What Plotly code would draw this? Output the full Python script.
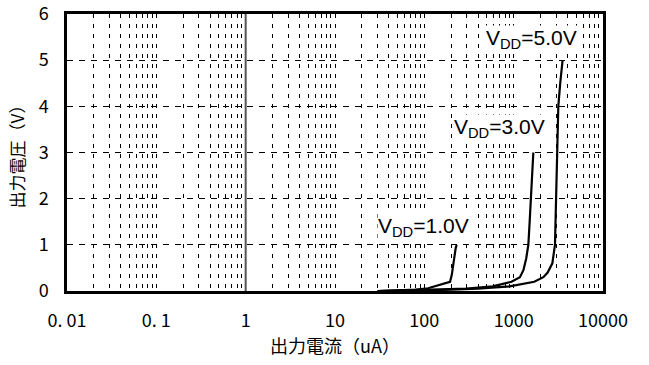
import math
import plotly.graph_objects as go

# ---- data ----
vdd1_current = [30, 50, 80, 110, 150, 175, 194, 203, 211, 218, 224, 230]
vdd1_voltage = [0.0, 0.01, 0.03, 0.06, 0.13, 0.17, 0.2, 0.35, 0.6, 0.8, 0.92, 1.0]

vdd3_current = [30, 100, 300, 580, 946, 1175, 1285, 1380, 1460, 1510, 1563, 1610, 1660]
vdd3_voltage = [0.0, 0.02, 0.05, 0.1, 0.2, 0.3, 0.45, 0.7, 1.0, 1.5, 2.0, 2.5, 3.0]

vdd5_current = [30, 100, 400, 900, 1700, 2150, 2400, 2710, 2900, 3000, 3080, 3160, 3320, 3530]
vdd5_voltage = [0.0, 0.01, 0.05, 0.1, 0.2, 0.3, 0.4, 0.6, 1.0, 2.0, 3.0, 4.0, 4.5, 5.0]

x_tick_vals = [0.01, 0.1, 1, 10, 100, 1000, 10000]
x_tick_text = ["0. 01", "0. 1", "1", "10", "100", "1000", "10000"]
y_tick_vals = [0, 1, 2, 3, 4, 5, 6]

labels = ["V<sub>DD</sub>=1.0V", "V<sub>DD</sub>=3.0V", "V<sub>DD</sub>=5.0V"]
label_x = [97, 703, 1603]
label_y = [1.39, 3.53, 5.46]

# y-axis crossing position (Excel draws the vertical axis at x=1)
axis_cross_x = [1, 1]
axis_cross_y = [0, 6]

FONT = "Noto Sans CJK JP"

fig = go.Figure()
fig.add_trace(go.Scatter(x=axis_cross_x, y=axis_cross_y, mode="lines",
                         line=dict(color="#555555", width=2), showlegend=False, hoverinfo="skip"))
for xs, ys in [(vdd1_current, vdd1_voltage), (vdd3_current, vdd3_voltage), (vdd5_current, vdd5_voltage)]:
    fig.add_trace(go.Scatter(x=xs, y=ys, mode="lines",
                             line=dict(color="black", width=2.2), showlegend=False))

for t, lx, ly in zip(labels, label_x, label_y):
    fig.add_annotation(x=math.log10(lx), y=ly, xref="x", yref="y", text=t, showarrow=False,
                       font=dict(family="Liberation Sans, Arial", size=21, color="black"),
                       bgcolor="white", borderpad=0)

fig.update_layout(
    width=649, height=365,
    margin=dict(l=67, r=46, t=14, b=74, autoexpand=False),
    paper_bgcolor="white", plot_bgcolor="white",
    font=dict(family=FONT, size=18, color="black"),
)
fig.update_xaxes(
    type="log", range=[-2, 4], automargin=False,
    tickmode="array", tickvals=x_tick_vals, ticktext=x_tick_text,
    ticks="", ticklabelstandoff=12, ticklabeloverflow="allow",
    showgrid=True, gridcolor="black", gridwidth=1, griddash="4px,6px",
    minor=dict(dtick="D1", showgrid=True, gridcolor="black", gridwidth=1, griddash="4px,6px", ticks=""),
    showline=True, linecolor="black", linewidth=2.5, mirror=True,
    title=dict(text="出力電流（uA）", font=dict(family=FONT, size=18), standoff=5),
    tickfont=dict(family=FONT, size=18),
)
fig.update_yaxes(
    range=[0, 6], tickmode="array", tickvals=y_tick_vals, automargin=False,
    ticks="", ticklabelstandoff=12, ticklabeloverflow="allow",
    showgrid=True, gridcolor="black", gridwidth=1, griddash="6px,6px",
    zeroline=False,
    showline=True, linecolor="black", linewidth=2.5, mirror=True,
    title=dict(text="出力電圧（V）", font=dict(family=FONT, size=17), standoff=10),
    tickfont=dict(family=FONT, size=18),
)

fig.write_html("out.html")
